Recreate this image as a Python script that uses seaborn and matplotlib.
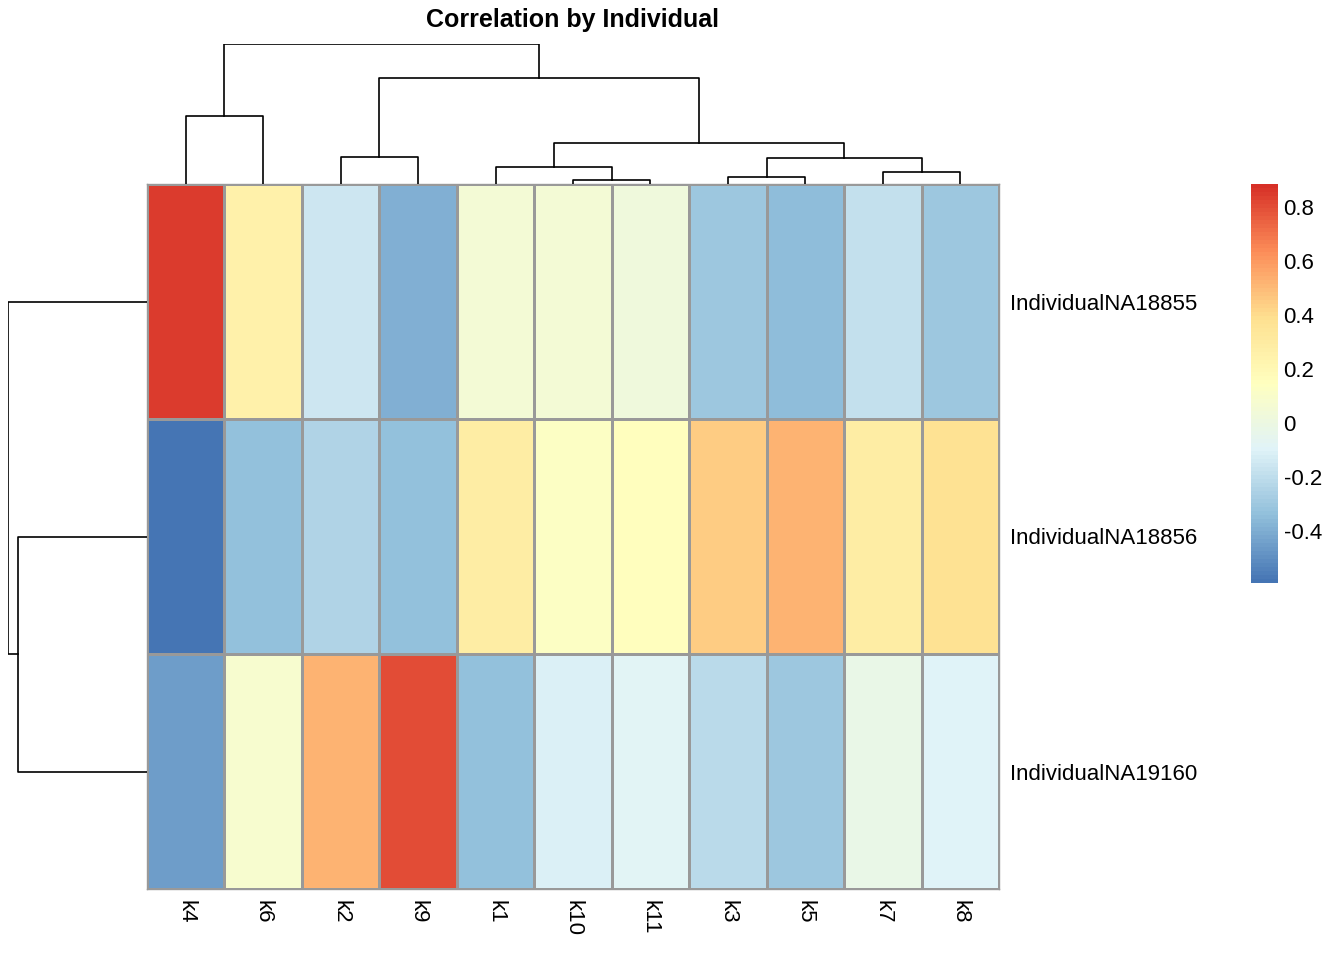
import numpy as np
import pandas as pd
import matplotlib
matplotlib.use("Agg")
import matplotlib.pyplot as plt
import seaborn as sns
from matplotlib.colors import LinearSegmentedColormap

# column / row order as clustered
col_order = ["k4", "k6", "k2", "k9", "k1", "k10", "k11", "k3", "k5", "k7", "k8"]
row_order = ["IndividualNA18855", "IndividualNA18856", "IndividualNA19160"]

na18855 = [0.85, 0.25, -0.15, -0.40, 0.05, 0.05, 0.02, -0.30, -0.35, -0.18, -0.30]
na18856 = [-0.58, -0.33, -0.25, -0.33, 0.28, 0.12, 0.15, 0.45, 0.52, 0.28, 0.38]
na19160 = [-0.45, 0.08, 0.52, 0.80, -0.33, -0.12, -0.08, -0.22, -0.30, -0.02, -0.10]

# dendrogram merges: (left, right, height); ints refer to earlier merges
col_merges = [("k10", "k11", 4), ("k3", "k5", 7), ("k7", "k8", 12),
              ("k1", 0, 17), (1, 2, 26), ("k2", "k9", 27), (3, 4, 41),
              ("k4", "k6", 68), (5, 6, 106), (7, 8, 140)]
row_merges = [("IndividualNA18856", "IndividualNA19160", 129),
              ("IndividualNA18855", 0, 139)]

vmin, vmax = -0.593, 0.885
cbar_ticks = [-0.4, -0.2, 0, 0.2, 0.4, 0.6, 0.8]
cbar_labels = ["-0.4", "-0.2", "0", "0.2", "0.4", "0.6", "0.8"]

df = pd.DataFrame([na18855, na18856, na19160], index=row_order, columns=col_order)

plt.rcParams["font.family"] = ["Liberation Sans", "DejaVu Sans"]
cmap = LinearSegmentedColormap.from_list(
    "pheat", ["#4575B4", "#91BFDB", "#E0F3F8", "#FFFFBF", "#FEE090", "#FC8D59", "#D73027"], N=100)

W, H = 1344, 960
fig = plt.figure(figsize=(W / 100, H / 100), dpi=100)

def ax_px(x0, y0, x1, y1):
    return fig.add_axes([x0 / W, 1 - y1 / H, (x1 - x0) / W, (y1 - y0) / H])

ax = ax_px(147, 184, 999, 889)
cax = ax_px(1251, 184, 1278, 583)
sns.heatmap(df, ax=ax, cmap=cmap, vmin=vmin, vmax=vmax, linewidths=1,
            linecolor="#999999", cbar_ax=cax, cbar_kws={"ticks": cbar_ticks})
for s in ax.spines.values():
    s.set_visible(True); s.set_color("#999999"); s.set_linewidth(1)
ax.set_xlabel(""); ax.set_ylabel("")
ax.xaxis.tick_bottom(); ax.yaxis.tick_right()
ax.set_xticklabels(col_order, rotation=-90, fontsize=16)
ax.set_yticklabels(row_order, rotation=0, fontsize=16)
ax.tick_params(length=0, pad=8)
cax.set_yticklabels(cbar_labels, fontsize=16)
cax.tick_params(length=0, pad=4)
cb = ax.collections[0].colorbar
if cb is not None:
    cb.outline.set_visible(False)

def draw_tree(axd, merges, order, horizontal):
    pos = {n: i + 0.5 for i, n in enumerate(order)}
    hts = {n: 0 for n in order}
    for i, (a, b, h) in enumerate(merges):
        pa, pb, ha, hb = pos[a], pos[b], hts[a], hts[b]
        xs, ys = [pa, pa, pb, pb], [ha, h, h, hb]
        if horizontal:
            axd.plot(xs, ys, color="black", lw=1.2)
        else:
            axd.plot(ys, xs, color="black", lw=1.2)
        pos[i] = (pa + pb) / 2
        hts[i] = h
    return max(m[2] for m in merges)

dc = ax_px(147, 44, 999, 184)
top = draw_tree(dc, col_merges, col_order, True)
dc.set_xlim(0, len(col_order)); dc.set_ylim(0, top)
dc.axis("off")

dr = ax_px(8, 184, 147, 889)
top = draw_tree(dr, row_merges, row_order, False)
dr.set_ylim(len(row_order), 0); dr.set_xlim(top, 0)
dr.axis("off")

fig.text(573 / W, 1 - 20 / H, "Correlation by Individual", ha="center", va="center",
         fontsize=18, fontweight="bold")

fig.savefig("out.png", dpi=100)
